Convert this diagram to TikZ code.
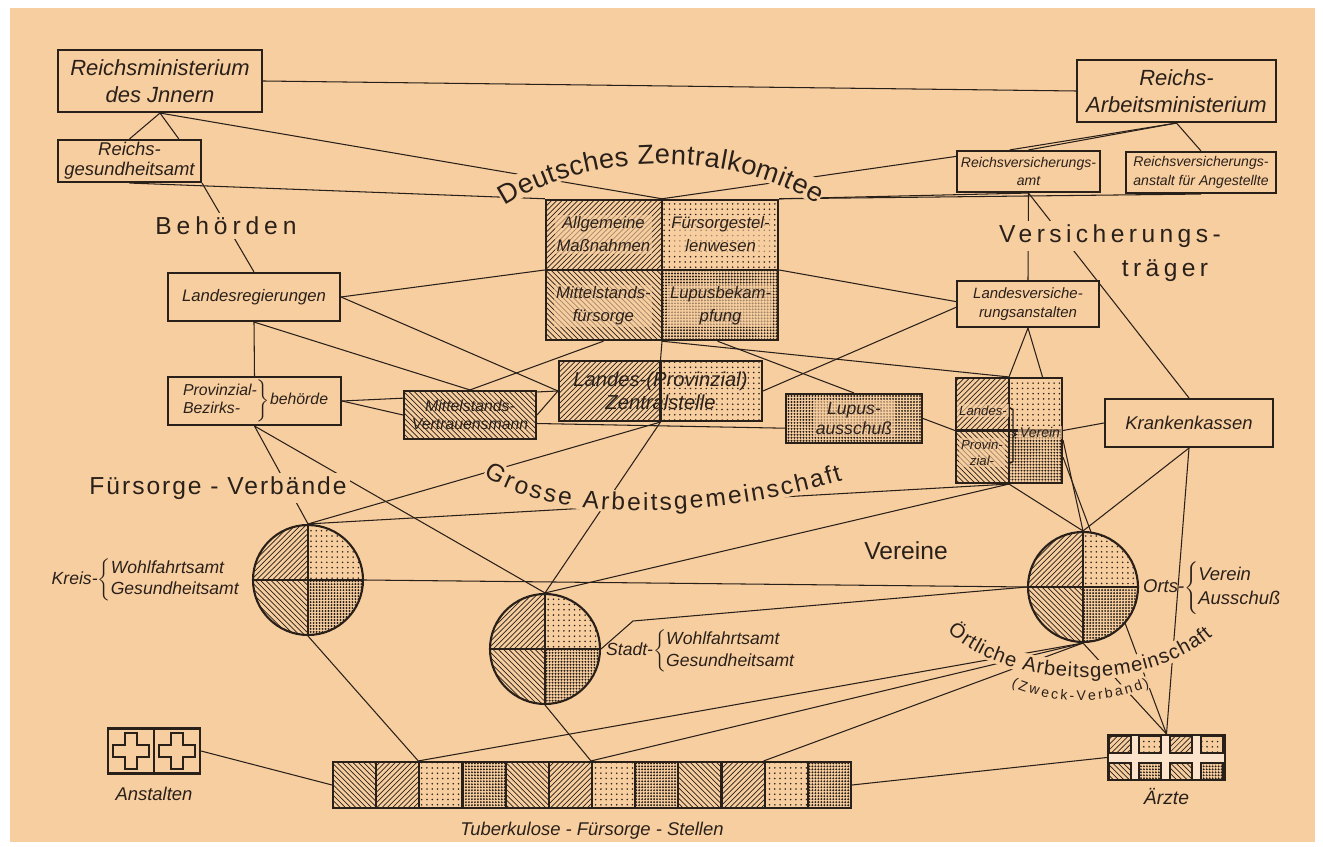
\documentclass[tikz,border=0pt]{standalone}
\usepackage{fontspec}
\setmainfont{Liberation Sans}
\newfontfamily\labelfont{Liberation Sans}
\usetikzlibrary{positioning,calc,patterns,decorations.text}

\definecolor{paper}{RGB}{247,206,160}
\definecolor{ink}{RGB}{42,32,26}

\pgfdeclarepatternformonly{densedots}{\pgfqpoint{-1pt}{-1pt}}{\pgfqpoint{1pt}{1pt}}{\pgfqpoint{1.7pt}{1.7pt}}%
  {\pgfpathcircle{\pgfqpoint{0pt}{0pt}}{0.62pt}\pgfusepath{fill}}

\newcommand{\fsz}[2]{\fontsize{#1}{#2}\selectfont}
\newcommand{\greekcross}[1]{%
  \draw[ink, line width=0.9pt] ($(#1)+(-6,-18)$) -- ++(12,0) -- ++(0,12) -- ++(12,0) -- ++(0,12) -- ++(-12,0)
    -- ++(0,12) -- ++(-12,0) -- ++(0,-12) -- ++(-12,0) -- ++(0,-12) -- ++(12,0) -- cycle;}

\pgfdeclarelayer{paperlayer}
\pgfdeclarelayer{lines}
\pgfdeclarelayer{mask}
\pgfsetlayers{paperlayer,lines,mask,main}

\tikzset{
  box/.style={draw=ink, line width=1.2pt, fill=paper, inner sep=1pt, align=center, text=ink},
  hatchbox/.style={box, postaction={pattern=#1, pattern color=ink}},
  quadfill/.style={path picture={
    \fill[pattern=north east lines, pattern color=ink] (path picture bounding box.center) rectangle (path picture bounding box.north west);
    \fill[pattern=dots, pattern color=ink] (path picture bounding box.center) rectangle (path picture bounding box.north east);
    \fill[pattern=north west lines, pattern color=ink] (path picture bounding box.center) rectangle (path picture bounding box.south west);
    \fill[pattern=densedots, pattern color=ink] (path picture bounding box.center) rectangle (path picture bounding box.south east);
    \draw[ink, line width=1.2pt] (path picture bounding box.north) -- (path picture bounding box.south)
      (path picture bounding box.west) -- (path picture bounding box.east);
  }},
  halves/.style={path picture={
    \fill[pattern=north east lines, pattern color=ink] (path picture bounding box.north) rectangle (path picture bounding box.south west);
    \fill[pattern=dots, pattern color=ink] (path picture bounding box.north) rectangle (path picture bounding box.south east);
    \draw[ink, line width=1.2pt] (path picture bounding box.north) -- (path picture bounding box.south);
  }},
  circ/.style={circle, draw=ink, line width=1.2pt, fill=paper, minimum size=2.2cm, inner sep=0pt, quadfill},
  tfscell/.style={hatchbox=#1, minimum width=0.8633cm, minimum height=0.92cm, inner sep=0pt},
  celltext/.style={fill=paper, fill opacity=0.6, text opacity=1, text=ink, inner sep=1pt, align=center, font=\itshape\fsz{9.5}{13}},
  lbl/.style={inner sep=1pt, text=ink, align=left},
  biglabel/.style={fill=paper, inner sep=2pt, text=ink},
  link/.style={draw=ink, line width=0.6pt},
}

\begin{document}
\begin{tikzpicture}[x=0.02cm, y=-0.02cm]
\begin{pgfonlayer}{paperlayer}
  \fill[white] (0,0) rectangle (1323,847);
  \fill[paper] (10,8) rectangle (1315,842);
\end{pgfonlayer}
\useasboundingbox (0,0) rectangle (1323,847);

\node[box, minimum width=4.08cm, minimum height=1.24cm, font=\itshape\fsz{12.5}{15}] (rmi) at (160,81) {Reichsministerium\\des Jnnern};
\node[box, minimum width=2.86cm, minimum height=0.84cm, font=\itshape\fsz{10.5}{11.5}] (rga) at (129.5,161) {Reichs-\\gesundheitsamt};
\node[box, minimum width=3.98cm, minimum height=1.24cm, font=\itshape\fsz{12.5}{15}] (ram) at (1176.5,91) {Reichs-\\Arbeitsministerium};
\node[box, minimum width=2.86cm, minimum height=0.82cm, font=\itshape\fsz{8}{10.5}] (rva) at (1028.5,171.5) {Reichsversicherungs-\\amt};
\node[box, minimum width=3cm, minimum height=0.82cm, font=\itshape\fsz{8}{10.5}] (rvaa) at (1201,172.5) {Reichsversicherungs-\\anstalt für Angestellte};

\node[box, minimum width=4.64cm, minimum height=2.8cm, line width=1.4pt, quadfill] (dzk) at (662,270) {};
\node[celltext] (allg) at ($(dzk.center)!0.5!(dzk.north west)$) {Allgemeine\\Maßnahmen};
\node[celltext] (fsw) at ($(dzk.center)!0.5!(dzk.north east)$) {Fürsorgestel-\\lenwesen};
\node[celltext] (mfs) at ($(dzk.center)!0.5!(dzk.south west)$) {Mittelstands-\\fürsorge};
\node[celltext] (lbk) at ($(dzk.center)!0.5!(dzk.south east)$) {Lupusbekam-\\pfung};

\node[box, minimum width=3.44cm, minimum height=0.96cm, font=\itshape\fsz{9.5}{11}] (lreg) at (254,297) {Landesregierungen};
\node[box, minimum width=2.84cm, minimum height=0.92cm, font=\itshape\fsz{8.5}{11}] (lva) at (1028,304) {Landesversiche-\\rungsanstalten};
\node[box, minimum width=3.46cm, minimum height=0.96cm, font=\itshape\fsz{9}{10.5}] (pbb) at (254.5,401)
  {$\left.\begin{tabular}{@{}l@{}}Provinzial-\\Bezirks-\end{tabular}\right\}$behörde};
\node[hatchbox=north west lines, minimum width=2.64cm, minimum height=0.96cm, font=\itshape\fsz{9}{10.5}] (mvm) at (470,415) {Mittelstands-\\Vertrauensmann};
\node[box, minimum width=4.06cm, minimum height=1.2cm, halves, font=\itshape\fsz{11.5}{13}] (zst) at (660.5,391) {Landes-(Provinzial)\\Zentralstelle};
\node[hatchbox=densedots, minimum width=2.72cm, minimum height=0.98cm] (lupa) at (854,418.5) {};
\node[celltext, font=\itshape\fsz{10}{11.5}] (lupatxt) at (lupa.center) {Lupus-\\ausschuß};
\node[box, minimum width=2.12cm, minimum height=2.1cm, quadfill] (lpv) at (1009,430.5) {};
\node[celltext, font=\itshape\fsz{7.5}{9}] (lds) at ($(lpv.center)+(-26,-20)$) {Landes-};
\node[celltext, font=\itshape\fsz{7.5}{9}] (prv) at ($(lpv.center)+(-27,22)$) {Provin-\\zial-};
\node[celltext, font=\itshape\fsz{8}{9}] (ver) at ($(lpv.center)+(31,2)$) {Verein};
\draw[ink, line width=0.8pt] ($(lpv.center)+(0,-23)$) -- ++(4,2) -- ++(0,23) -- ++(3,2) -- ++(-3,2) -- ++(0,25) -- ++(-4,2);
\node[box, minimum width=3.36cm, minimum height=0.96cm, font=\itshape\fsz{10.5}{12}] (kk) at (1189,423) {Krankenkassen};

\node[circ] (kreis) at (308,580) {};
\node[circ] (stadt) at (545,649) {};
\node[circ] (orts) at (1083,587) {};
\coordinate (sbend) at (633,621);

\node[lbl, anchor=east, font=\itshape\fsz{10}{11.5}] (kreislbl) at ($(kreis.west)+(-9,0)$)
  {Kreis-$\left\{\begin{tabular}{@{}l@{}}Wohlfahrtsamt\\Gesundheitsamt\end{tabular}\right.$};
\node[lbl, anchor=west, font=\itshape\fsz{10}{12.5}] (stadtlbl) at ($(stadt.east)+(3,2)$)
  {Stadt-$\left\{\begin{tabular}{@{}l@{}}Wohlfahrtsamt\\Gesundheitsamt\end{tabular}\right.$};
\node[lbl, anchor=west, font=\itshape\fsz{10.5}{13.5}] (ortslbl) at ($(orts.east)+(2,1)$)
  {Orts-$\left\{\begin{tabular}{@{}l@{}}Verein\\Ausschuß\end{tabular}\right.$};

\node[box, minimum width=1.84cm, minimum height=0.9cm] (anst) at (154,751) {};
\draw[ink, line width=1.2pt] (anst.north) -- (anst.south);
\coordinate (cr1) at ($(anst.center)+(-23,0)$);
\coordinate (cr2) at ($(anst.center)+(23,0)$);
\greekcross{cr1}
\greekcross{cr2}
\node[lbl, below=0.2cm of anst, font=\itshape\fsz{10.5}{12}] (anstlbl) {Anstalten};

\node[box, minimum width=10.36cm, minimum height=0.92cm] (tfs) at (592,785) {};
\foreach \i/\pat in {1/north west lines, 2/north east lines, 3/dots, 4/densedots,
                     5/north west lines, 6/north east lines, 7/dots, 8/densedots,
                     9/north west lines, 10/north east lines, 11/dots, 12/densedots}
  \node[tfscell=\pat] (t\i) at ({333+43.17*(\i-0.5)},785) {};
\node[lbl, below=0.22cm of tfs, font=\itshape\fsz{10.5}{12}] (tfslbl) {Tuberkulose - Fürsorge - Stellen};

\node[box, minimum width=2.34cm, minimum height=0.9cm, fill=paper!55!white] (aerzte) at (1166.5,757.5) {};
\foreach \x/\y/\pat in {1120/744.5/north east lines, 1150/744.5/dots, 1181/744.5/north east lines, 1212/744.5/dots,
                        1120/771.5/north west lines, 1150/771.5/densedots, 1181/771.5/north west lines, 1212/771.5/densedots}
  \draw[ink, line width=0.9pt, fill=paper, postaction={pattern=\pat, pattern color=ink}] ({\x-11},{\y-8.5}) rectangle ({\x+11},{\y+8.5});
\node[lbl, below=0.1cm of aerzte, font=\itshape\fsz{11}{12}] (aerztelbl) {Ärzte};

\node[biglabel, font=\labelfont\fsz{14}{16}\addfontfeature{LetterSpace=20}] (behoerden) at (226,226) {Behörden};
\node[biglabel, font=\labelfont\fsz{14}{16}\addfontfeature{LetterSpace=18}] (versich) at (1110,236) {Versicherungs-};
\node[biglabel, font=\labelfont\fsz{14}{16}\addfontfeature{LetterSpace=18}] (traeger) at (1165,271) {träger};
\node[biglabel, font=\labelfont\fsz{14}{16}\addfontfeature{LetterSpace=8}] (fverb) at (218,488) {Fürsorge - Verbände};
\node[biglabel, font=\labelfont\fsz{14}{16}] (vereine) at (906,551) {Vereine};

\begin{pgfonlayer}{lines}
\path[link]
  (rmi.east) edge (ram.west)
  (rmi.south) edge (rga.north)
  (rmi.south) edge ($(rga.north west)!0.84!(rga.north east)$)
  (rmi.south) edge (dzk.north)
  (rga.south) edge (dzk.north west)
  ($(rva.north west)!0.15!(rva.south west)$) edge (dzk.north)
  (dzk.north east) edge (rva.south)
  (dzk.north east) edge (rvaa.south)
  (ram.south) edge (rva.north)
  (ram.south) edge ($(rva.north west)!0.37!(rva.north east)$)
  (ram.south) edge (rvaa.north)
  (rga.south east) edge (lreg.north)
  (lreg.east) edge (dzk.west)
  (lreg.east) edge (zst.west)
  (lreg.south) edge (mvm.north)
  (lreg.south) edge (pbb.north)
  (pbb.east) edge (zst.west)
  (pbb.east) edge (mvm.west)
  (mvm.east) edge (zst.west)
  (mvm.north) edge ($(dzk.south west)!0.25!(dzk.south east)$)
  ($(mvm.north east)!0.67!(mvm.south east)$) edge ($(lupa.north west)!0.69!(lupa.south west)$)
  (lupa.east) edge (lpv.west)
  (dzk.south) edge (zst.north)
  (dzk.south) edge (lpv.north)
  ($(dzk.south west)!0.737!(dzk.south east)$) edge (lupa.north)
  (dzk.east) edge ($(lva.north west)!0.45!(lva.south west)$)
  (zst.east) edge ($(lva.north west)!0.57!(lva.south west)$)
  (rva.south) edge (lva.north)
  (rva.south) edge (kk.north)
  (lva.south) edge (lpv.north)
  (lva.south) edge ($(lpv.north west)!0.81!(lpv.north east)$)
  (lpv.east) edge (kk.west)
  (zst.south) edge (stadt.north)
  (zst.south) edge (kreis.north)
  (pbb.south) edge (kreis.north)
  (pbb.south) edge (stadt.north)
  (kreis.north) edge (lpv.south)
  (stadt.north) edge (lpv.south)
  (kreis.east) edge (orts.west)
  (lpv.south) edge (orts.north)
  ($(lpv.north east)!0.59!(lpv.south east)$) edge (orts.north)
  ($(lpv.north east)!0.75!(lpv.south east)$) edge (aerzte.north)
  (kk.south) edge (orts.north)
  (kk.south) edge (aerzte.north)
  (orts.south) edge (aerzte.north)
  (kreis.south) edge (t3.north west)
  (stadt.south) edge (t7.north west)
  (t3.north west) edge (orts.south)
  (t7.north west) edge (orts.south)
  (t11.north west) edge (orts.south)
  (anst.east) edge (tfs.west)
  (tfs.east) edge (aerzte.west);
\draw[link] (stadt.east) -- (sbend) -- (orts.west);
\end{pgfonlayer}

\begin{pgfonlayer}{mask}
\draw[paper, line width=13.5pt] (500,197) .. controls (590,140) and (730,140) .. (822,195);
\draw[paper, line width=12.5pt] (488,468) .. controls (545,510) and (700,515) .. (840,472);
\draw[paper, line width=11pt] (952,626) .. controls (1010,680) and (1140,688) .. (1208,630);
\draw[paper, line width=7pt] (1013,682) .. controls (1055,700) and (1105,700) .. (1148,682);
\end{pgfonlayer}

\path[decorate, decoration={text along path, text align={fit to path}, raise=-5.7pt,
  text={|\labelfont\fsz{15.5}{18}\color{ink}|Deutsches Zentralkomitee}}]
  (500,197) .. controls (590,140) and (730,140) .. (822,195);
\path[decorate, decoration={text along path, text align={fit to path}, raise=-5pt,
  text={|\labelfont\fsz{14}{16}\color{ink}|Grosse Arbeitsgemeinschaft}}]
  (488,468) .. controls (545,510) and (700,515) .. (840,472);
\path[decorate, decoration={text along path, text align={fit to path}, raise=-4.2pt,
  text={|\labelfont\fsz{11.5}{14}\color{ink}|Örtliche Arbeitsgemeinschaft}}]
  (952,626) .. controls (1010,680) and (1140,688) .. (1208,630);
\path[decorate, decoration={text along path, text align={fit to path}, raise=-2.8pt,
  text={|\labelfont\fsz{8}{10}\color{ink}|(Zweck-Verband)}}]
  (1013,682) .. controls (1055,700) and (1105,700) .. (1148,682);
\end{tikzpicture}
\end{document}
